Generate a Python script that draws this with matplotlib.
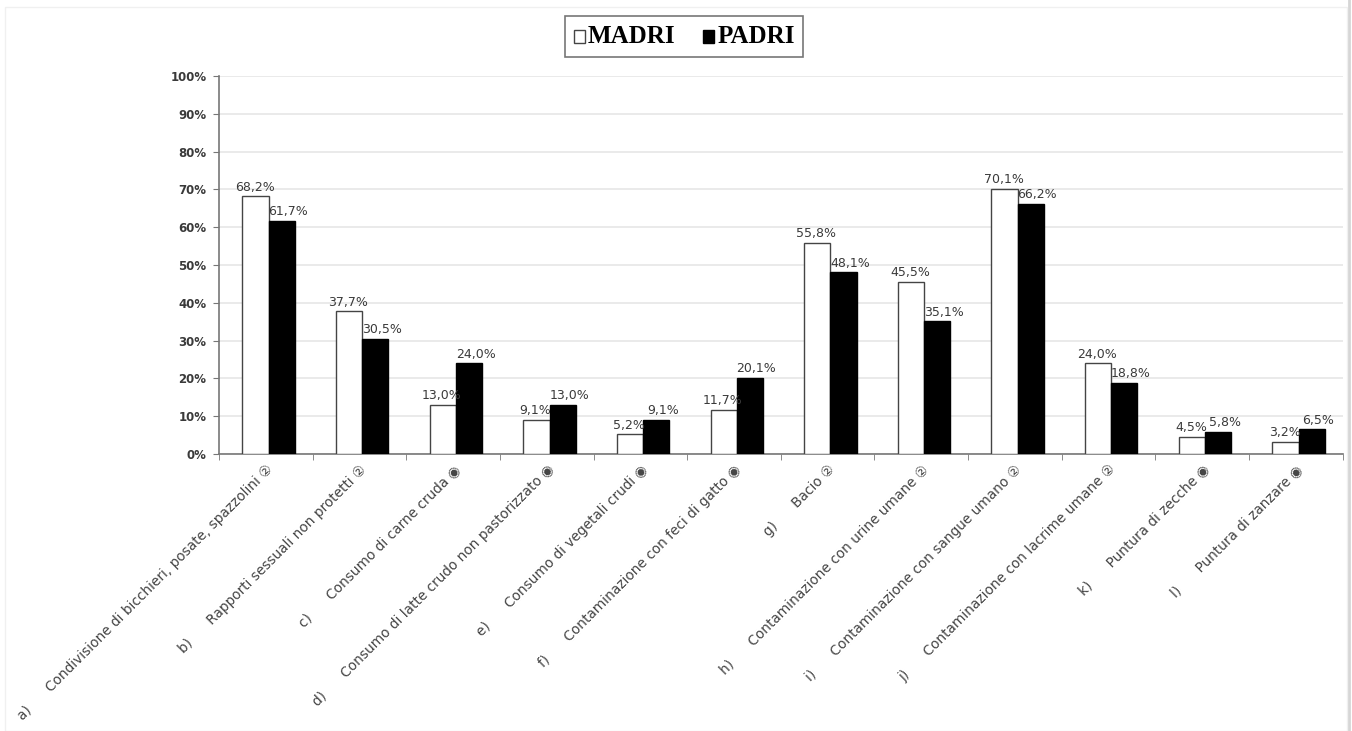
import matplotlib
matplotlib.use("Agg")
import matplotlib.pyplot as plt
from matplotlib.ticker import MultipleLocator, PercentFormatter
from matplotlib.patches import Rectangle
from matplotlib.lines import Line2D
import numpy as np

# Percentuali di risposta per fonte di contagio
categorie = [
    "a)      Condivisione di bicchieri, posate, spazzolini \u2461",
    "b)      Rapporti sessuali non protetti \u2461",
    "c)      Consumo di carne cruda \u25c9",
    "d)      Consumo di latte crudo non pastorizzato \u25c9",
    "e)      Consumo di vegetali crudi \u25c9",
    "f)      Contaminazione con feci di gatto \u25c9",
    "g)      Bacio \u2461",
    "h)      Contaminazione con urine umane \u2461",
    "i)      Contaminazione con sangue umano \u2461",
    "j)      Contaminazione con lacrime umane \u2461",
    "k)      Puntura di zecche \u25c9",
    "l)      Puntura di zanzare \u25c9",
]
madri = [68.2, 37.7, 13.0, 9.1, 5.2, 11.7, 55.8, 45.5, 70.1, 24.0, 4.5, 3.2]
padri = [61.7, 30.5, 24.0, 13.0, 9.1, 20.1, 48.1, 35.1, 66.2, 18.8, 5.8, 6.5]

TEXT = "#3a3a3a"
plt.rcParams["font.family"] = ["DejaVu Sans"]

fig = plt.figure(figsize=(13.52, 7.31), dpi=100)
ax = fig.add_axes([0.162, 0.379, 0.831, 0.517])

x = np.arange(len(categorie))
w = 0.28
off = 0.03
b1 = ax.bar(x + off - w / 2, madri, w, color="white", edgecolor="#444444", linewidth=1.0, zorder=3)
b2 = ax.bar(x + off + w / 2, padri, w, color="black", edgecolor="black", linewidth=1.0, zorder=3)

# etichette: quelle dei padri leggermente spostate a destra
for bars, vals, dx in ((b1, madri, -0.01), (b2, padri, 0.07)):
    for r, v in zip(bars, vals):
        ax.text(r.get_x() + r.get_width() / 2 + dx, v + 0.7, f"{v:.1f}%".replace(".", ","),
                ha="center", va="bottom", fontsize=9, color=TEXT, zorder=4)

ax.set_xlim(-0.5, len(categorie) - 0.5)
ax.set_ylim(0, 100)
ax.yaxis.set_major_locator(MultipleLocator(10))
ax.yaxis.set_major_formatter(PercentFormatter(decimals=0))
ax.grid(axis="y", color="#e8e8e8", linewidth=1.3, zorder=0)

ax.set_xticks(x)
ax.set_xticklabels(categorie, rotation=45, ha="right", rotation_mode="anchor",
                   fontsize=9.8, color="#444444")
ax.set_xticks(np.arange(-0.5, len(categorie)), minor=True)
ax.tick_params(axis="x", which="major", length=0, pad=6)
ax.tick_params(axis="x", which="minor", length=4, color="#777777")
ax.tick_params(axis="y", length=4, color="#777777", labelsize=8.5, labelcolor=TEXT, pad=5)
for t in ax.get_yticklabels():
    t.set_fontweight("bold")

for s in ("top", "right"):
    ax.spines[s].set_visible(False)
for s in ("left", "bottom"):
    ax.spines[s].set_color("#777777")
    ax.spines[s].set_linewidth(1.2)

leg = ax.legend([b1, b2], ["MADRI", "PADRI"], loc="center", bbox_to_anchor=(0.506, 0.95),
                bbox_transform=fig.transFigure, ncol=2, frameon=True, fancybox=False,
                edgecolor="#555555", handlelength=0.45, handleheight=0.4, handletextpad=0.12,
                columnspacing=1.1, borderpad=0.35, borderaxespad=0,
                prop={"family": "Liberation Serif", "weight": "bold", "size": 18})
leg.get_frame().set_linewidth(1.2)
for h in leg.legend_handles:
    h.set_y(h.get_y() - 1.5)

# cornice esterna della figura
fig.patches.append(Rectangle((0.004, 0.0), 0.992, 0.99, transform=fig.transFigure,
                             fill=False, edgecolor="#f0f0f0", linewidth=1.0))
fig.lines.append(Line2D([0.9975, 0.9975], [0.0, 1.0], transform=fig.transFigure,
                        color="#d6d6d6", linewidth=2.0))

fig.savefig("out.png", dpi=100, facecolor="white")
